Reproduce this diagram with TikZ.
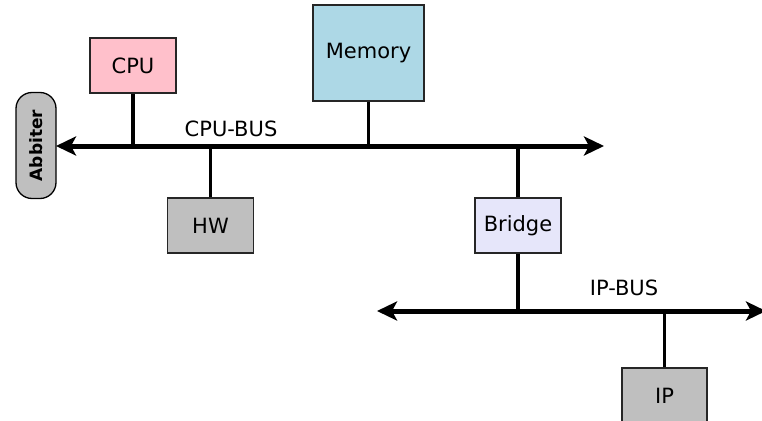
\documentclass[tikz,border=0pt]{standalone}
\usepackage{fontspec}
\setmainfont{DejaVu Sans}
\usetikzlibrary{arrows.meta}
\begin{document}
\begin{tikzpicture}[x=1pt,y=-1pt,
  unit/.style={draw=black!85, line width=1.3pt, inner sep=0pt, font=\fontsize{21}{25}\selectfont},
  bus/.style={line width=5pt, {Stealth[length=20pt,width=19pt,inset=5pt]}-{Stealth[length=20pt,width=19pt,inset=5pt]}},
  link/.style={line width=3.7pt},
  lbl/.style={font=\fontsize{21}{25}\selectfont}]
\useasboundingbox (0,0) rectangle (762,420);
% boxes
\node[unit, fill={rgb,255:red,255;green,192;blue,203}, minimum width=86pt, minimum height=55pt] (cpu) at (133,65.5) {CPU};
\node[unit, fill={rgb,255:red,173;green,216;blue,230}, minimum width=111pt, minimum height=96pt] (mem) at (368.5,53) {Memory};
\node[unit, fill={rgb,255:red,191;green,191;blue,191}, minimum width=86pt, minimum height=55pt] (hw) at (210.5,225.5) {HW};
\node[unit, fill={rgb,255:red,230;green,230;blue,250}, minimum width=86pt, minimum height=55pt] (bridge) at (518,225.5) {Bridge};
\node[unit, fill={rgb,255:red,191;green,191;blue,191}, minimum width=85pt, minimum height=55pt] (ip) at (664.5,395.5) {IP};
\node[draw=black, line width=1.3pt, fill={rgb,255:red,191;green,191;blue,191}, rounded corners=16pt,
      rotate=90, minimum width=106pt, minimum height=40pt, inner sep=0pt,
      font=\fontsize{17}{20}\selectfont\bfseries] (arb) at (36,145.5) {Abbiter};
% bus end points
\coordinate (cbL) at (56,146);
\coordinate (cbR) at (604,146);
\coordinate (ibL) at (377,311);
\coordinate (ibR) at (766,311);
% buses
\draw[bus] (cbL) -- (cbR);
\draw[bus] (ibL) -- (ibR);
\node[lbl] (cblabel) at (231,129) {CPU-BUS};
\node[lbl] (iblabel) at (624,288) {IP-BUS};
% links
\draw[link] (cpu.south) -- (cpu.south |- cbL);
\draw[link] (mem.south) -- (mem.south |- cbL);
\draw[link] (hw.north) -- (hw.north |- cbL);
\draw[link] (bridge.north) -- (bridge.north |- cbL);
\draw[link] (bridge.south) -- (bridge.south |- ibL);
\draw[link] (ip.north) -- (ip.north |- ibL);
\end{tikzpicture}
\end{document}
